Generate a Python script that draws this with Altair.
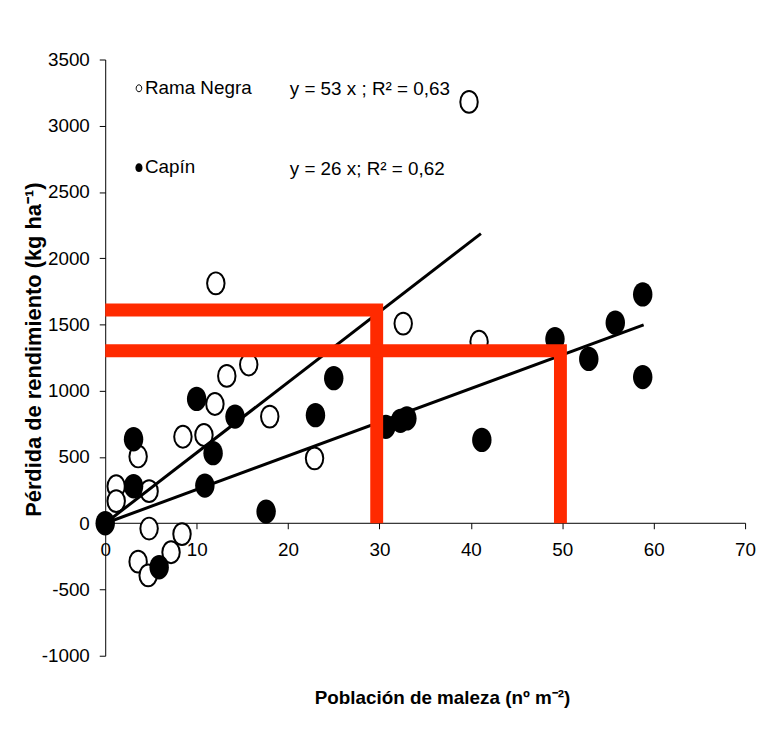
import altair as alt
import pandas as pd

# ---- data ----
rama_x = [39.8, 12.1, 32.6, 40.9, 15.7, 13.3, 12.0, 18.0, 8.5, 10.8, 22.9, 3.6, 1.2, 4.8, 1.2, 4.8, 8.4, 7.2, 3.6, 4.7]
rama_y = [3180, 1811, 1507, 1370, 1198, 1112, 900, 805, 653, 666, 490, 504, 279, 242, 167, -40, -82, -219, -290, -394]

capin_x = [0.0, 3.1, 3.1, 5.9, 10.0, 11.8, 10.9, 14.2, 17.6, 23.0, 25.0, 30.7, 32.3, 33.0, 41.2, 49.2, 52.9, 55.8, 58.8, 58.8]
capin_y = [0, 634, 279, -332, 938, 529, 284, 805, 88, 816, 1095, 728, 773, 791, 629, 1390, 1240, 1514, 1727, 1103]

fit_rama_x = [0, 41.1]
fit_rama_y = [0, 2186]
fit_capin_x = [0, 58.9]
fit_capin_y = [0, 1497]

ref_x = [29.7, 49.8]
ref_y = [1609, 1302]

x_ticks = [0, 10, 20, 30, 40, 50, 60, 70]
y_ticks = [-1000, -500, 0, 500, 1000, 1500, 2000, 2500, 3000, 3500]

series_names = ["Rama Negra", "Capín"]
equations = ["y = 53 x ; R² = 0,63", "y = 26 x; R² = 0,62"]
x_title = "Población de maleza (nº m⁻²)"
y_title = "Pérdida de rendimiento (kg ha⁻¹)"

# ---- styling ----
W, H = 645, 601
FONT = "Liberation Sans, Arial, sans-serif"
RED = "#ff2a00"
ELLIPSE = "M0,-1A0.8,1 0 1,1 0,1A0.8,1 0 1,1 0,-1Z"

xs = alt.Scale(domain=[0, 70], nice=False, zero=False)
ys = alt.Scale(domain=[-1000, 3500], nice=False, zero=False)

X = alt.X("x:Q", scale=xs, axis=alt.Axis(
    values=x_ticks, offset=-134, title=None, grid=False,
    labelExpr="datum.value + ''",
    labelFont=FONT, labelFontSize=19, labelColor="black", labelPadding=12,
    tickSize=6, tickColor="black", domainColor="black", labelFlush=False))
Y = alt.Y("y:Q", scale=ys, axis=alt.Axis(
    values=y_ticks, grid=False, title=y_title,
    labelExpr="datum.value + ''",
    labelFont=FONT, labelFontSize=19, labelColor="black", labelPadding=10,
    tickSize=6, tickColor="black", domainColor="black", labelFlush=False,
    titleFont="Liberation Sans", titleFontSize=22, titleFontWeight="bold",
    titleColor="black", titleAngle=270, titleX=-65, titleY=292,
    titleAlign="center", titleBaseline="alphabetic"))

rama_df = pd.DataFrame({"x": rama_x, "y": rama_y})
capin_df = pd.DataFrame({"x": capin_x, "y": capin_y})

open_pts = alt.Chart(rama_df).mark_point(
    shape=ELLIPSE, size=484, filled=True, fill="white", stroke="black",
    strokeWidth=2, opacity=1).encode(x=X, y=Y)
filled_pts = alt.Chart(capin_df).mark_point(
    shape=ELLIPSE, size=600, filled=True, fill="black", strokeWidth=0,
    opacity=1).encode(x=X, y=Y)

fit_df = pd.DataFrame({
    "x": fit_rama_x + fit_capin_x,
    "y": fit_rama_y + fit_capin_y,
    "s": ["r"] * len(fit_rama_x) + ["c"] * len(fit_capin_x),
})
fits = alt.Chart(fit_df).mark_line(color="black", strokeWidth=3).encode(
    x=X, y=Y, detail="s:N")

br_rows = []
for i, (rx, ry) in enumerate(zip(ref_x, ref_y)):
    br_rows += [
        {"x": 0, "y": ry, "b": i, "k": 0},
        {"x": rx, "y": ry, "b": i, "k": 1},
        {"x": rx, "y": 0, "b": i, "k": 2},
    ]
brackets = alt.Chart(pd.DataFrame(br_rows)).mark_line(
    color=RED, strokeWidth=13, strokeJoin="miter", strokeCap="butt").encode(
    x=X, y=Y, detail="b:N", order="k:O")


def one(v):
    return alt.Chart(pd.DataFrame({"t": [v]}))


def label(txt, px, py, size=19, weight="normal", align="left"):
    return one(txt).mark_text(
        font=FONT, fontSize=size, fontWeight=weight, color="black",
        align=align, baseline="middle").encode(
        x=alt.value(px), y=alt.value(py), text="t:N")


leg_open = one(0).mark_point(shape=ELLIPSE, size=49, filled=True, fill="white",
                             stroke="black", strokeWidth=1, opacity=1).encode(
    x=alt.value(34), y=alt.value(29))
leg_fill = one(0).mark_point(shape=ELLIPSE, size=81, filled=True, fill="black",
                             strokeWidth=0, opacity=1).encode(
    x=alt.value(34), y=alt.value(109))

texts = [
    label(series_names[0], 40, 29),
    label(equations[0], 186, 30),
    label(series_names[1], 40, 108),
    label(equations[1], 186, 110),
    label(x_title, 340, 644, size=19, weight="bold", align="center"),
]

chart = alt.layer(open_pts, filled_pts, fits, brackets, leg_open, leg_fill, *texts).properties(
    width=W, height=H,
    autosize=alt.AutoSizeParams(type="none"),
    padding={"left": 98, "top": 49, "right": 11, "bottom": 80},
    background="white",
).configure_view(stroke=None)

chart.save("out.html", embed_options={"renderer": "svg", "actions": False})
